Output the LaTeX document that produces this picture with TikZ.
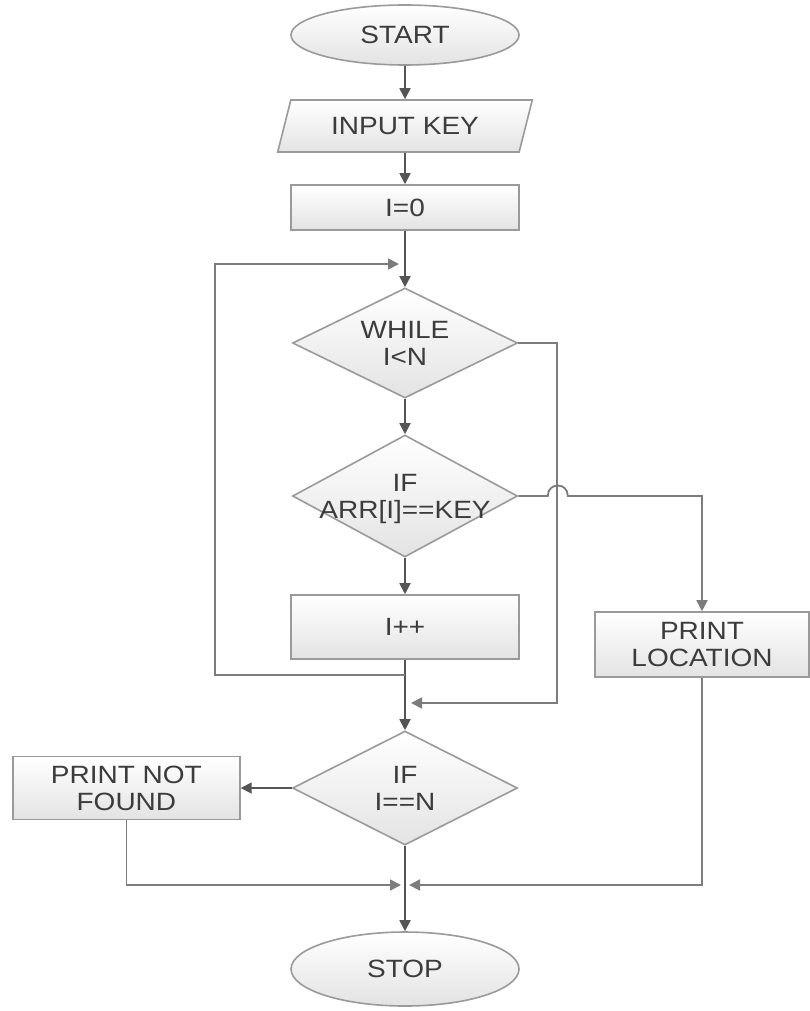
\documentclass[tikz,border=0pt]{standalone}
\usepackage{fontspec}
\setmainfont[FakeStretch=1.12]{Liberation Sans}
\usetikzlibrary{positioning,arrows.meta,shapes.geometric,calc}
\definecolor{linegray}{HTML}{555555}
\definecolor{sidegray}{HTML}{7C7C7C}
\definecolor{edgegray}{HTML}{9A9A9A}
\definecolor{textgray}{HTML}{3C3C3C}

\begin{document}
\begin{tikzpicture}[x=1pt, y=-1pt,
      font=\fontsize{25}{27}\selectfont, text=textgray,
      base/.style={draw=edgegray, line width=1.6pt, top color=white, bottom color=black!11,
                   align=center, inner sep=0pt},
      term/.style={base, ellipse, minimum width=228pt, minimum height=60pt},
      inout/.style={base, trapezium, trapezium left angle=64, trapezium right angle=116,
                    trapezium stretches=true, minimum width=255pt, minimum height=52pt},
      proc/.style={base, rectangle, minimum width=228pt, minimum height=45pt},
      decide/.style={base, diamond, minimum width=225pt, minimum height=110pt},
      dtext/.style={align=center, inner sep=0pt},
      flow/.style={-{Triangle[length=11pt,width=11pt]}, linegray, line width=1.8pt},
      side/.style={flow, draw=sidegray}]
    \useasboundingbox (0,0) rectangle (810,1011);
    % main column
    \node[term] (start) at (405,35) {START};
    \node[inout, below=33.4pt of start] (input) {INPUT KEY};
    \node[proc, below=31.4pt of input] (init) {I=0};
    \node[decide, below=56.4pt of init] (while) {};
    \node[decide, below=35.4pt of while, minimum height=122pt] (ifkey) {};
    \node[proc, below=36.4pt of ifkey, minimum height=64pt] (incr) {I++};
    \node[decide, below=70.4pt of incr, minimum height=114pt] (ifn) {};
    \node[term, below=85.4pt of ifn, minimum height=74pt] (stop) {STOP};
    \node[dtext] (while-t) at (while) {WHILE\\I<N};
    \node[dtext] (ifkey-t) at ([yshift=-3pt]ifkey.center) {IF\\ARR[I]==KEY};
    \node[dtext] (ifn-t) at (ifn) {IF\\I==N};
    % side boxes
    \node[proc, left=51pt of ifn, minimum width=227pt, minimum height=63pt] (pnf) {PRINT NOT\\FOUND};
    \node[proc, minimum width=214pt, minimum height=65pt] (ploc) at (702,644.5) {PRINT\\LOCATION};
    % junctions
    \coordinate (jtop) at (405,264);
    \coordinate (jloop) at (405,675);
    \coordinate (jwhile) at (405,703);
    \coordinate (jend) at (405,885);
    % connectors
    \draw[flow] (start) -- (input);
    \draw[flow] (input) -- (init);
    \draw[flow] (init) -- (while);
    \draw[flow] (while) -- (ifkey);
    \draw[flow] (ifkey) -- (incr);
    \draw[flow] (incr) -- (ifn);
    \draw[flow] (ifn) -- (pnf);
    \draw[flow] (ifn) -- (stop);
    \draw[side, shorten >=6pt] (jloop) -| (215,264) -- (jtop);
    \draw[side, shorten >=6pt] (while.east) -| (557,703) -- (jwhile);
    \draw[side] (ifkey.east) -- ($(ifkey.east)+(29.5,0)$)
        .. controls ($(ifkey.east)+(29.5,-14)$) and ($(ifkey.east)+(49.5,-14)$) .. ($(ifkey.east)+(49.5,0)$)
        -| (ploc.north);
    \draw[side, shorten >=4pt] (pnf.south) |- (jend);
    \draw[side, shorten >=4pt] (ploc.south) |- (jend);
  \end{tikzpicture}
\end{document}
